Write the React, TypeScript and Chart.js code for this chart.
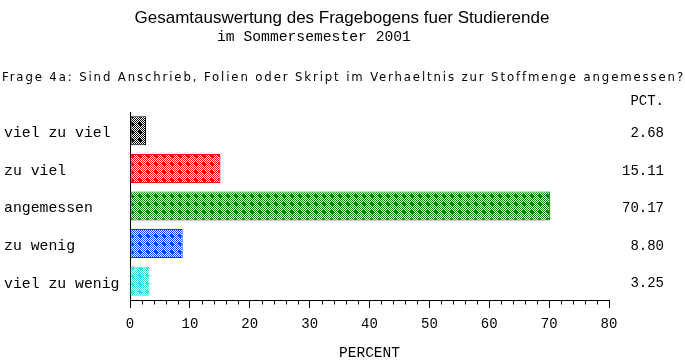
import { useEffect, useRef } from "react";
import { Chart, registerables } from "chart.js";

Chart.register(...registerables);

const TITLE = "Gesamtauswertung des Fragebogens fuer Studierende";
const SUBTITLE = "im Sommersemester 2001";
const QUESTION =
  "Frage 4a: Sind Anschrieb, Folien oder Skript im Verhaeltnis zur Stoffmenge angemessen?";
const AXIS_TITLE = "PERCENT";
const PCT_HEADER = "PCT.";

const categories = ["viel zu viel", "zu viel", "angemessen", "zu wenig", "viel zu wenig"];
const percents = [2.68, 15.11, 70.17, 8.8, 3.25];
const barColors = ["#000000", "#ff0000", "#008000", "#0040ff", "#33dddd"];
const xMin = 0;
const xMax = 80;
const xMajorStep = 10;
const xMinorStep = 2;

const MONO = "'Liberation Mono', 'DejaVu Sans Mono', monospace";
const SANS = "'Liberation Sans', Arial, sans-serif";

function makePattern(color: string): CanvasPattern | string {
  const c = document.createElement("canvas");
  c.width = 8;
  c.height = 8;
  const g = c.getContext("2d");
  if (!g) return color;
  g.fillStyle = "#ffffff";
  g.fillRect(0, 0, 8, 8);
  g.fillStyle = color;
  for (let y = 0; y < 8; y++) {
    for (let x = 0; x < 8; x++) {
      if ((x + y) % 2 === 0) g.fillRect(x, y, 1, 1);
    }
  }
  g.fillRect(3, 2, 2, 4);
  g.fillRect(2, 3, 4, 2);
  const p = g.createPattern(c, "repeat");
  return p || color;
}

const textPlugin = {
  id: "extraTexts",
  afterDraw(chart: any) {
    const ctx = chart.ctx as CanvasRenderingContext2D;
    const xs = chart.scales.x;
    const ys = chart.scales.y;
    ctx.save();
    ctx.fillStyle = "#000000";
    ctx.textBaseline = "middle";

    // title
    ctx.font = `17px ${SANS}`;
    ctx.textAlign = "center";
    ctx.fillText(TITLE, 342, 18);

    // subtitle
    ctx.font = `14.7px ${MONO}`;
    ctx.textAlign = "left";
    ctx.fillText(SUBTITLE, 217, 37);

    // question, spread over the full width
    ctx.font = `13px 'DejaVu Sans Condensed', 'DejaVu Sans', sans-serif`;
    const target = 681;
    const w0 = ctx.measureText(QUESTION).width;
    const spacing = Math.max(0, (target - w0) / (QUESTION.length - 1));
    (ctx as any).letterSpacing = `${spacing}px`;
    ctx.fillText(QUESTION, 2, 78, target + 2);
    (ctx as any).letterSpacing = "0px";

    // category labels (positions from the category scale)
    ctx.font = `14.8px ${MONO}`;
    ctx.textAlign = "left";
    categories.forEach((label, i) => {
      const y = ys.getPixelForValue(i);
      ctx.fillText(label, 4, y + 2.5);
    });

    // right-hand value column
    ctx.font = `14px ${MONO}`;
    ctx.textAlign = "right";
    ctx.fillText(PCT_HEADER, 664, 101);
    percents.forEach((v, i) => {
      const y = ys.getPixelForValue(i);
      ctx.fillText(v.toFixed(2), 664, y + 2.5);
    });

    // minor ticks on the x axis
    ctx.strokeStyle = "#000000";
    ctx.lineWidth = 1;
    const base = Math.round(xs.top) + 0.5;
    ctx.beginPath();
    for (let v = xMin; v <= xMax; v += xMinorStep) {
      if (v % xMajorStep === 0) continue;
      const px = Math.round(xs.getPixelForValue(v)) + 0.5;
      ctx.moveTo(px, base);
      ctx.lineTo(px, base + 4);
    }
    ctx.stroke();
    ctx.restore();
  },
};

export default function App() {
  const ref = useRef<HTMLCanvasElement | null>(null);

  useEffect(() => {
    document.body.style.margin = "0";
    const canvas = ref.current;
    if (!canvas) return;
    const patterns = barColors.map((c) => makePattern(c));
    const chart = new Chart(canvas, {
      type: "bar",
      data: {
        labels: categories,
        datasets: [
          {
            data: percents,
            backgroundColor: patterns as any,
            borderColor: barColors,
            borderWidth: 1,
            borderSkipped: false,
            barPercentage: 0.77,
            categoryPercentage: 1,
          },
        ],
      },
      options: {
        indexAxis: "y",
        responsive: false,
        animation: false,
        events: [],
        layout: { padding: { top: 112, left: 4, right: 76, bottom: 0 } },
        plugins: {
          legend: { display: false },
          tooltip: { enabled: false },
          title: { display: false },
        },
        scales: {
          x: {
            type: "linear",
            position: "bottom",
            min: xMin,
            max: xMax,
            ticks: {
              stepSize: xMajorStep,
              color: "#000000",
              font: { family: MONO, size: 14 },
              padding: 8,
              maxRotation: 0,
            },
            grid: {
              display: true,
              drawOnChartArea: false,
              drawTicks: true,
              tickLength: 8,
              color: "#000000",
              tickColor: "#000000",
            },
            border: { display: true, color: "#000000", width: 1 },
            title: {
              display: true,
              text: AXIS_TITLE,
              color: "#000000",
              font: { family: MONO, size: 14.5 },
              padding: { top: 0, bottom: 2 },
            },
            afterFit(scale: any) {
              scale.height = 64;
            },
          },
          y: {
            type: "category",
            position: "left",
            grid: { display: false, drawTicks: false },
            border: { display: true, color: "#000000", width: 1 },
            ticks: { display: false },
            afterFit(scale: any) {
              scale.width = 126;
            },
          },
        },
      },
      plugins: [textPlugin],
    });
    return () => chart.destroy();
  }, []);

  return (
    <div style={{ position: "absolute", left: 0, top: 0, width: 685, height: 364, background: "#ffffff" }}>
      <canvas ref={ref} width={685} height={364} style={{ display: "block" }} />
    </div>
  );
}
